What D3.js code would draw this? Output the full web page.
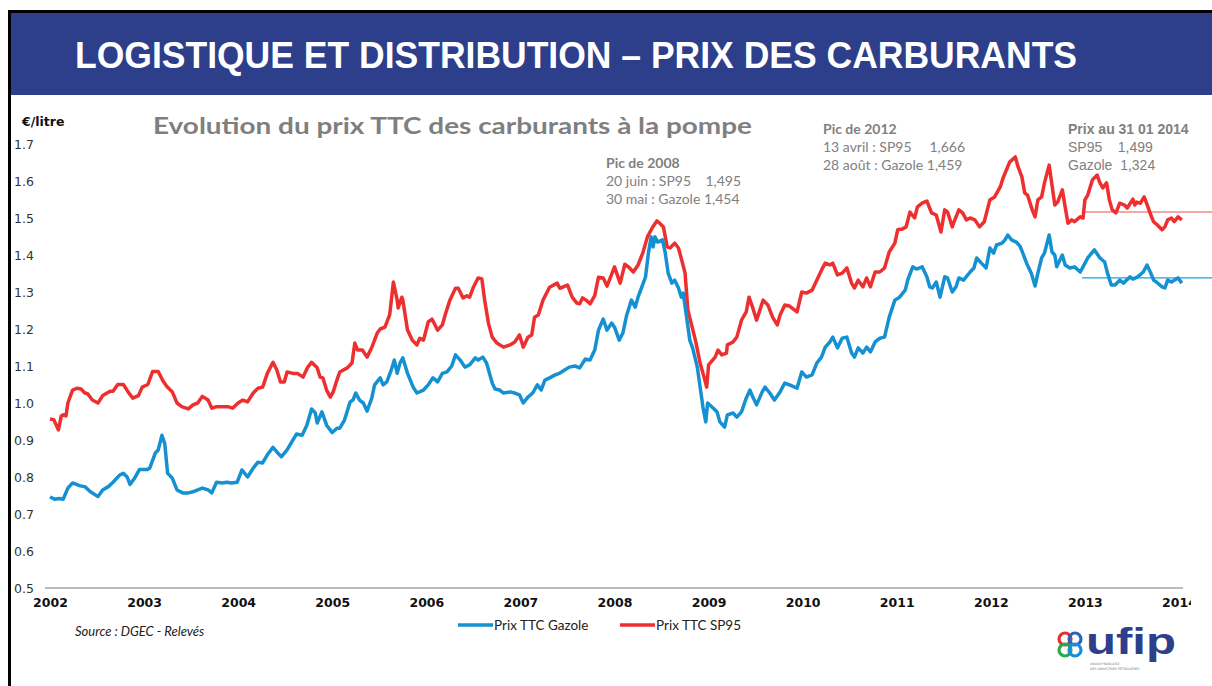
<!DOCTYPE html>
<html>
<head>
<meta charset="utf-8">
<script src="https://cdn.jsdelivr.net/npm/d3@7"></script>
<style>
  body { margin: 0; background: #fff; }
  svg { display: block; }
</style>
</head>
<body>
<script>
// page size
var W = 1212, H = 686;

// Prix TTC SP95 (€/litre) - [annee decimale, prix]
var sp95 = [
  [2002.00,0.957],[2002.04,0.955],[2002.09,0.927],[2002.12,0.965],[2002.14,0.968],[2002.17,0.965],[2002.19,1.0],
  [2002.24,1.035],[2002.29,1.04],[2002.33,1.038],[2002.37,1.027],[2002.40,1.025],[2002.45,1.008],[2002.51,1.0],
  [2002.56,1.02],[2002.64,1.032],[2002.67,1.032],[2002.72,1.05],[2002.78,1.05],[2002.83,1.03],[2002.88,1.013],
  [2002.94,1.02],[2002.98,1.043],[2003.04,1.05],[2003.09,1.085],[2003.15,1.085],[2003.20,1.06],[2003.24,1.045],
  [2003.30,1.03],[2003.35,1.0],[2003.40,0.99],[2003.47,0.984],[2003.52,0.995],[2003.57,1.0],[2003.62,1.018],
  [2003.68,1.008],[2003.72,0.986],[2003.77,0.99],[2003.84,0.99],[2003.89,0.99],[2003.94,0.986],[2004.00,1.0],
  [2004.05,1.008],[2004.10,1.003],[2004.16,1.027],[2004.21,1.04],[2004.26,1.043],[2004.31,1.08],[2004.37,1.11],
  [2004.41,1.09],[2004.45,1.057],[2004.49,1.057],[2004.52,1.084],[2004.58,1.08],[2004.63,1.08],[2004.69,1.07],
  [2004.74,1.097],[2004.78,1.11],[2004.84,1.095],[2004.87,1.07],[2004.90,1.068],[2004.94,1.035],[2004.98,1.016],
  [2005.01,1.03],[2005.05,1.062],[2005.08,1.084],[2005.16,1.095],[2005.21,1.108],[2005.24,1.162],[2005.27,1.143],
  [2005.32,1.143],[2005.37,1.124],[2005.42,1.15],[2005.48,1.19],[2005.51,1.2],[2005.56,1.205],[2005.61,1.238],
  [2005.65,1.327],[2005.69,1.278],[2005.70,1.257],[2005.74,1.286],[2005.75,1.278],[2005.80,1.197],[2005.85,1.17],
  [2005.90,1.157],[2005.93,1.175],[2005.97,1.17],[2006.02,1.219],[2006.06,1.227],[2006.12,1.197],[2006.17,1.211],
  [2006.20,1.238],[2006.25,1.278],[2006.31,1.31],[2006.34,1.31],[2006.39,1.284],[2006.43,1.29],[2006.46,1.286],
  [2006.50,1.313],[2006.55,1.338],[2006.59,1.335],[2006.62,1.278],[2006.66,1.216],[2006.70,1.178],[2006.75,1.162],
  [2006.82,1.151],[2006.89,1.157],[2006.94,1.165],[2006.99,1.184],[2007.03,1.151],[2007.08,1.178],[2007.12,1.184],
  [2007.15,1.232],[2007.19,1.238],[2007.24,1.278],[2007.31,1.313],[2007.39,1.324],[2007.42,1.31],[2007.45,1.313],
  [2007.50,1.319],[2007.55,1.286],[2007.60,1.27],[2007.63,1.268],[2007.66,1.284],[2007.70,1.278],[2007.74,1.268],
  [2007.79,1.29],[2007.83,1.34],[2007.88,1.338],[2007.92,1.316],[2007.95,1.335],[2008.00,1.368],[2008.06,1.324],
  [2008.11,1.375],[2008.16,1.365],[2008.20,1.354],[2008.25,1.373],[2008.30,1.405],[2008.35,1.449],[2008.40,1.473],
  [2008.45,1.492],[2008.48,1.486],[2008.52,1.476],[2008.56,1.422],[2008.59,1.419],[2008.64,1.432],[2008.68,1.419],
  [2008.72,1.381],[2008.75,1.351],[2008.78,1.251],[2008.86,1.17],[2008.91,1.108],[2008.96,1.062],[2008.98,1.043],
  [2009.00,1.103],[2009.07,1.124],[2009.10,1.143],[2009.14,1.13],[2009.19,1.135],[2009.20,1.157],[2009.26,1.165],
  [2009.30,1.178],[2009.35,1.224],[2009.40,1.246],[2009.43,1.286],[2009.47,1.257],[2009.51,1.224],[2009.58,1.278],
  [2009.63,1.265],[2009.68,1.232],[2009.73,1.211],[2009.76,1.238],[2009.81,1.265],[2009.86,1.262],[2009.94,1.246],
  [2009.99,1.3],[2010.04,1.297],[2010.10,1.305],[2010.15,1.332],[2010.20,1.359],[2010.24,1.378],[2010.29,1.373],
  [2010.32,1.378],[2010.37,1.346],[2010.42,1.351],[2010.47,1.365],[2010.52,1.324],[2010.55,1.311],[2010.59,1.332],
  [2010.64,1.314],[2010.68,1.338],[2010.72,1.314],[2010.77,1.354],[2010.82,1.354],[2010.87,1.365],[2010.92,1.408],
  [2010.98,1.432],[2011.01,1.468],[2011.06,1.47],[2011.10,1.476],[2011.14,1.516],[2011.19,1.5],[2011.22,1.53],
  [2011.27,1.54],[2011.32,1.546],[2011.37,1.514],[2011.42,1.508],[2011.47,1.462],[2011.51,1.522],[2011.54,1.516],
  [2011.59,1.476],[2011.61,1.49],[2011.66,1.522],[2011.70,1.514],[2011.74,1.495],[2011.78,1.5],[2011.83,1.495],
  [2011.88,1.476],[2011.93,1.49],[2011.99,1.549],[2012.04,1.557],[2012.10,1.584],[2012.13,1.608],[2012.20,1.651],
  [2012.26,1.665],[2012.29,1.638],[2012.33,1.611],[2012.36,1.568],[2012.39,1.562],[2012.44,1.522],[2012.47,1.503],
  [2012.50,1.549],[2012.54,1.557],[2012.57,1.595],[2012.62,1.643],[2012.65,1.589],[2012.68,1.535],[2012.71,1.543],
  [2012.76,1.576],[2012.79,1.53],[2012.82,1.486],[2012.86,1.495],[2012.89,1.49],[2012.95,1.503],[2012.98,1.5],
  [2013.00,1.549],[2013.03,1.562],[2013.08,1.603],[2013.13,1.616],[2013.16,1.595],[2013.19,1.581],[2013.23,1.595],
  [2013.26,1.549],[2013.29,1.522],[2013.33,1.514],[2013.37,1.54],[2013.42,1.535],[2013.45,1.527],[2013.51,1.551],
  [2013.53,1.535],[2013.55,1.543],[2013.59,1.54],[2013.63,1.557],[2013.67,1.53],[2013.70,1.508],[2013.73,1.49],
  [2013.77,1.481],[2013.82,1.468],[2013.85,1.476],[2013.88,1.495],[2013.92,1.5],[2013.95,1.49],[2013.99,1.503],
  [2014.03,1.495]
];

// Prix TTC Gazole (€/litre)
var gazole = [
  [2002.00,0.746],[2002.05,0.74],[2002.10,0.742],[2002.14,0.74],[2002.19,0.77],[2002.24,0.784],[2002.32,0.776],
  [2002.37,0.774],[2002.43,0.76],[2002.51,0.747],[2002.56,0.765],[2002.62,0.774],[2002.67,0.786],[2002.74,0.805],
  [2002.78,0.81],[2002.82,0.8],[2002.85,0.78],[2002.90,0.797],[2002.95,0.82],[2003.03,0.82],[2003.06,0.824],
  [2003.12,0.865],[2003.15,0.873],[2003.19,0.913],[2003.22,0.89],[2003.25,0.81],[2003.30,0.797],[2003.35,0.765],
  [2003.41,0.757],[2003.47,0.757],[2003.52,0.76],[2003.57,0.765],[2003.62,0.77],[2003.68,0.765],[2003.72,0.757],
  [2003.77,0.786],[2003.83,0.784],[2003.88,0.786],[2003.93,0.784],[2003.99,0.786],[2004.04,0.819],[2004.10,0.8],
  [2004.16,0.824],[2004.21,0.84],[2004.26,0.838],[2004.31,0.86],[2004.37,0.88],[2004.42,0.865],[2004.46,0.855],
  [2004.52,0.873],[2004.57,0.895],[2004.62,0.916],[2004.68,0.913],[2004.73,0.94],[2004.78,0.984],[2004.82,0.973],
  [2004.84,0.946],[2004.89,0.976],[2004.94,0.94],[2005.00,0.92],[2005.05,0.932],[2005.08,0.932],[2005.13,0.954],
  [2005.19,1.003],[2005.22,1.008],[2005.25,1.027],[2005.29,1.008],[2005.33,1.0],[2005.37,0.978],[2005.42,1.013],
  [2005.45,1.049],[2005.51,1.068],[2005.54,1.049],[2005.58,1.057],[2005.62,1.084],[2005.66,1.116],[2005.69,1.08],
  [2005.72,1.108],[2005.75,1.122],[2005.80,1.08],[2005.86,1.043],[2005.90,1.027],[2005.97,1.035],[2006.02,1.049],
  [2006.07,1.068],[2006.12,1.057],[2006.17,1.08],[2006.22,1.084],[2006.27,1.1],[2006.31,1.13],[2006.36,1.116],
  [2006.41,1.097],[2006.46,1.103],[2006.52,1.122],[2006.55,1.116],[2006.60,1.124],[2006.64,1.108],[2006.70,1.054],
  [2006.73,1.038],[2006.78,1.035],[2006.82,1.027],[2006.89,1.03],[2006.94,1.027],[2006.99,1.022],[2007.03,1.0],
  [2007.08,1.016],[2007.13,1.027],[2007.18,1.049],[2007.22,1.035],[2007.26,1.062],[2007.31,1.068],[2007.37,1.076],
  [2007.42,1.081],[2007.47,1.089],[2007.52,1.097],[2007.58,1.1],[2007.63,1.095],[2007.69,1.119],[2007.74,1.116],
  [2007.79,1.143],[2007.83,1.197],[2007.88,1.227],[2007.92,1.197],[2007.97,1.216],[2008.00,1.205],[2008.05,1.17],
  [2008.09,1.19],[2008.13,1.238],[2008.18,1.278],[2008.22,1.259],[2008.25,1.286],[2008.29,1.313],[2008.33,1.341],
  [2008.36,1.405],[2008.39,1.449],[2008.41,1.422],[2008.43,1.449],[2008.46,1.435],[2008.51,1.441],[2008.54,1.405],
  [2008.57,1.351],[2008.61,1.324],[2008.64,1.332],[2008.68,1.311],[2008.71,1.286],[2008.73,1.297],[2008.76,1.243],
  [2008.80,1.17],[2008.83,1.149],[2008.88,1.097],[2008.91,1.043],[2008.94,0.989],[2008.97,0.949],[2008.99,1.0],
  [2009.05,0.986],[2009.09,0.976],[2009.12,0.949],[2009.17,0.935],[2009.20,0.968],[2009.26,0.973],[2009.30,0.962],
  [2009.35,0.976],[2009.40,1.013],[2009.44,1.035],[2009.47,1.016],[2009.51,0.995],[2009.57,1.03],[2009.60,1.043],
  [2009.65,1.027],[2009.70,1.008],[2009.76,1.03],[2009.81,1.054],[2009.86,1.049],[2009.94,1.04],[2009.99,1.084],
  [2010.04,1.07],[2010.10,1.076],[2010.15,1.108],[2010.20,1.124],[2010.24,1.151],[2010.29,1.165],[2010.32,1.178],
  [2010.37,1.149],[2010.42,1.175],[2010.47,1.178],[2010.52,1.135],[2010.55,1.124],[2010.59,1.149],[2010.64,1.135],
  [2010.68,1.151],[2010.72,1.138],[2010.77,1.165],[2010.82,1.175],[2010.87,1.178],[2010.92,1.232],[2010.98,1.278],
  [2011.03,1.286],[2011.09,1.305],[2011.12,1.335],[2011.17,1.368],[2011.21,1.362],[2011.27,1.368],[2011.32,1.341],
  [2011.35,1.314],[2011.38,1.311],[2011.42,1.327],[2011.46,1.286],[2011.51,1.341],[2011.54,1.338],[2011.59,1.3],
  [2011.63,1.314],[2011.66,1.338],[2011.71,1.332],[2011.78,1.354],[2011.82,1.365],[2011.85,1.392],[2011.90,1.378],
  [2011.95,1.365],[2011.99,1.419],[2012.03,1.405],[2012.06,1.427],[2012.12,1.432],[2012.15,1.441],[2012.18,1.454],
  [2012.22,1.441],[2012.27,1.435],[2012.31,1.424],[2012.34,1.405],[2012.38,1.378],[2012.43,1.351],[2012.47,1.316],
  [2012.50,1.351],[2012.54,1.392],[2012.57,1.405],[2012.62,1.454],[2012.65,1.408],[2012.68,1.4],[2012.70,1.368],
  [2012.76,1.4],[2012.79,1.373],[2012.84,1.365],[2012.89,1.368],[2012.95,1.354],[2012.98,1.368],[2013.03,1.392],
  [2013.10,1.414],[2013.16,1.392],[2013.21,1.381],[2013.24,1.351],[2013.28,1.319],[2013.32,1.319],[2013.37,1.332],
  [2013.41,1.324],[2013.48,1.341],[2013.51,1.335],[2013.56,1.341],[2013.62,1.354],[2013.66,1.373],[2013.70,1.351],
  [2013.73,1.332],[2013.76,1.327],[2013.82,1.314],[2013.85,1.311],[2013.88,1.332],[2013.92,1.327],[2013.95,1.332],
  [2013.99,1.338],[2014.03,1.324]
];

// lignes de reference (depuis 2013)
var refStart = 2012.97;
var refSp95 = 1.516;
var refGazole = 1.338;

var years = d3.range(2002, 2015);
var yTicks = [0.5, 0.6, 0.7, 0.8, 0.9, 1.0, 1.1, 1.2, 1.3, 1.4, 1.5, 1.6, 1.7];

var pic2008 = ["Pic de 2008", "20 juin : SP95    1,495", "30 mai : Gazole 1,454"];
var pic2012 = ["Pic de 2012", "13 avril : SP95     1,666", "28 août : Gazole 1,459"];
var prix2014 = ["Prix au 31 01 2014", "SP95    1,499", "Gazole  1,324"];

var blue = "#1591d2", red = "#ee2f2f";

var svg = d3.select("body").append("svg")
    .attr("width", W)
    .attr("height", H);

// cadre noir + bandeau
svg.append("rect").attr("x", 8).attr("y", 10).attr("width", W).attr("height", 3).attr("fill", "#000");
svg.append("rect").attr("x", 8).attr("y", 10).attr("width", 3).attr("height", H).attr("fill", "#000");
svg.append("rect").attr("x", 11).attr("y", 13).attr("width", W).attr("height", 82).attr("fill", "#2d3e8a");
svg.append("text")
    .attr("x", 75).attr("y", 68)
    .attr("font-family", "Liberation Sans, Arial, sans-serif")
    .attr("font-weight", "bold")
    .attr("font-size", 36)
    .attr("fill", "#fff")
    .attr("textLength", 1002)
    .attr("lengthAdjust", "spacingAndGlyphs")
    .text("LOGISTIQUE ET DISTRIBUTION \u2013 PRIX DES CARBURANTS");

// scales
var x = d3.scaleLinear().domain([2002, 2014]).range([50, 1179]);
var y = d3.scaleLinear().domain([0.5, 1.7]).range([588, 144]);

// titre du graphique
svg.append("text")
    .attr("x", 153).attr("y", 134)
    .attr("font-family", "Lato, Open Sans, sans-serif")
    .attr("font-weight", "bold")
    .attr("font-size", 22)
    .attr("fill", "#7f7f7f")
    .attr("textLength", 599)
    .attr("lengthAdjust", "spacingAndGlyphs")
    .text("Evolution du prix TTC des carburants à la pompe");

svg.append("text")
    .attr("x", 22).attr("y", 126)
    .attr("font-family", "DejaVu Sans, sans-serif")
    .attr("font-weight", "bold")
    .attr("font-size", 12.5)
    .attr("fill", "#111")
    .text("€/litre");

// axe Y
var yAxis = svg.append("g")
    .attr("transform", "translate(34,0)")
    .call(d3.axisLeft(y).tickValues(yTicks).tickFormat(d3.format(".1f")).tickSize(0).tickPadding(0));
yAxis.select(".domain").remove();
yAxis.selectAll("text")
    .attr("font-family", "DejaVu Sans, sans-serif")
    .attr("font-size", 12.5)
    .attr("fill", "#333");

// ligne de base
svg.append("line")
    .attr("x1", x(2002) - 5).attr("x2", x(2014) + 4)
    .attr("y1", y(0.5)).attr("y2", y(0.5))
    .attr("stroke", "#a6a6a6").attr("stroke-width", 1.5);

// axe X (le libelle 2014 est coupe a droite)
svg.append("clipPath").attr("id", "clipx")
    .append("rect").attr("x", 0).attr("y", 0).attr("width", 1191).attr("height", 40);
var xAxis = svg.append("g")
    .attr("transform", "translate(0," + y(0.5) + ")")
    .attr("clip-path", "url(#clipx)")
    .call(d3.axisBottom(x).tickValues(years).tickFormat(d3.format("d")).tickSize(0).tickPadding(10));
xAxis.select(".domain").remove();
xAxis.selectAll("text")
    .attr("font-family", "DejaVu Sans, sans-serif")
    .attr("font-weight", "bold")
    .attr("font-size", 12.5)
    .attr("fill", "#111");

// lignes de reference
svg.append("line")
    .attr("x1", x(refStart)).attr("x2", W)
    .attr("y1", y(refSp95)).attr("y2", y(refSp95))
    .attr("stroke", "#f08a8a").attr("stroke-width", 1.5);
svg.append("line")
    .attr("x1", x(refStart)).attr("x2", W)
    .attr("y1", y(refGazole)).attr("y2", y(refGazole))
    .attr("stroke", "#1a9fe6").attr("stroke-width", 1.3);

// courbes
var line = d3.line()
    .x(function (d) { return x(d[0]); })
    .y(function (d) { return y(d[1]); });

svg.append("path")
    .datum(sp95)
    .attr("d", line)
    .attr("fill", "none")
    .attr("stroke", red)
    .attr("stroke-width", 3.5)
    .attr("stroke-linejoin", "round");

svg.append("path")
    .datum(gazole)
    .attr("d", line)
    .attr("fill", "none")
    .attr("stroke", blue)
    .attr("stroke-width", 3.5)
    .attr("stroke-linejoin", "round");

// annotations
function note(lines, x0, y0, fam) {
    var g = svg.append("g").attr("font-family", fam).attr("fill", "#808080").attr("font-size", 14);
    lines.forEach(function (t, i) {
        g.append("text")
            .attr("x", x0).attr("y", y0 + i * 18)
            .attr("font-weight", i === 0 ? "bold" : "normal")
            .attr("xml:space", "preserve")
            .style("white-space", "pre")
            .text(t);
    });
}
note(pic2008, 606, 168, "Lato, Open Sans, sans-serif");
note(pic2012, 823, 134, "Lato, Open Sans, sans-serif");
note(prix2014, 1068, 134, "Liberation Sans, Arial, sans-serif");

// source
svg.append("text")
    .attr("x", 75).attr("y", 636)
    .attr("font-family", "Lato, Open Sans, sans-serif")
    .attr("font-style", "italic")
    .attr("font-size", 13)
    .attr("fill", "#222")
    .text("Source : DGEC - Relevés");

// legende
var legend = [["Prix TTC Gazole", blue, 458], ["Prix TTC SP95", red, 620]];
legend.forEach(function (d) {
    svg.append("line")
        .attr("x1", d[2]).attr("x2", d[2] + 35)
        .attr("y1", 625).attr("y2", 625)
        .attr("stroke", d[1]).attr("stroke-width", 3.5);
    svg.append("text")
        .attr("x", d[2] + 36).attr("y", 630)
        .attr("font-family", "Lato, Open Sans, sans-serif")
        .attr("font-size", 13.5)
        .attr("fill", "#222")
        .text(d[0]);
});

// logo ufip
var logo = svg.append("g").attr("transform", "translate(1055,630)");
[["#e53030", 10, 9], ["#2a66b8", 20, 9], ["#2aa84a", 10, 20], ["#1b8fd6", 20, 20]].forEach(function (c) {
    logo.append("circle").attr("cx", c[1]).attr("cy", c[2]).attr("r", 6)
        .attr("fill", "none").attr("stroke", c[0]).attr("stroke-width", 3.2);
});
logo.append("text")
    .attr("x", 31).attr("y", 24)
    .attr("font-family", "Liberation Sans, Arial, sans-serif")
    .attr("font-weight", "bold")
    .attr("font-size", 36)
    .attr("fill", "#2d3e8a")
    .attr("textLength", 90)
    .attr("lengthAdjust", "spacingAndGlyphs")
    .text("ufip");
logo.append("text").attr("x", 35).attr("y", 35).attr("font-family", "DejaVu Sans, sans-serif")
    .attr("font-size", 3.2).attr("fill", "#777").text("UNION FRANÇAISE");
logo.append("text").attr("x", 35).attr("y", 39.5).attr("font-family", "DejaVu Sans, sans-serif")
    .attr("font-size", 3.2).attr("fill", "#777").text("DES INDUSTRIES PÉTROLIÈRES");
</script>
</body>
</html>
